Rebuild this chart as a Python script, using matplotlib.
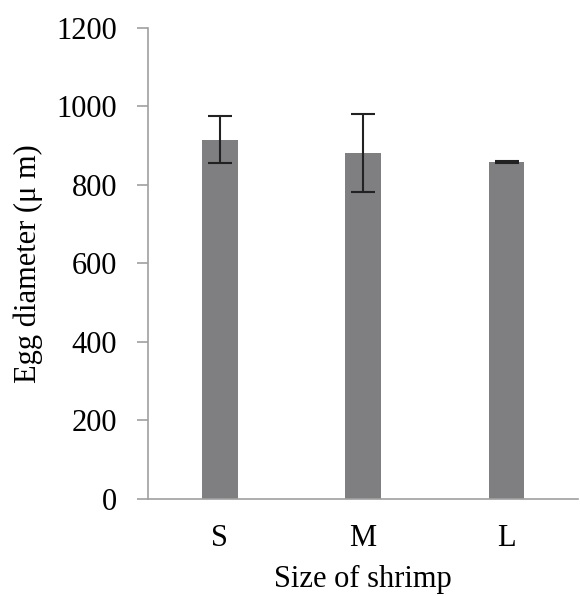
import matplotlib.pyplot as plt

sizes = ['S', 'M', 'L']
diameters = [915, 881, 859]
errors = [60, 100, 3]

plt.rcParams['font.family'] = ['Liberation Serif', 'DejaVu Serif']

fig = plt.figure(figsize=(5.8, 5.96), dpi=100)
ax = fig.add_axes([0.255, 0.163, 0.742, 0.79])

x = range(len(sizes))
ax.bar(x, diameters, width=0.25, color='#7f7f82')
ax.errorbar(x, diameters, yerr=errors, fmt='none', ecolor='#222222',
            elinewidth=1.5, capsize=8.5, capthick=1.5)

ax.set_xlim(-0.5, 2.5)
ax.set_ylim(0, 1200)
ax.set_yticks(range(0, 1201, 200))
ax.set_xticks(list(x))
ax.set_xticklabels(sizes)

for side in ['top', 'right']:
    ax.spines[side].set_visible(False)
for side in ['left', 'bottom']:
    ax.spines[side].set_color('#a0a0a0')
    ax.spines[side].set_linewidth(1.2)

ax.tick_params(axis='y', length=8, width=1.2, color='#a0a0a0', labelsize=22, pad=14)
ax.tick_params(axis='x', length=0, labelsize=22, pad=18)

ax.set_xlabel('Size of shrimp', fontsize=22, labelpad=9)
ax.set_ylabel('Egg diameter (\u03bc m)', fontsize=22, labelpad=10)

fig.savefig('out.png', dpi=100)
